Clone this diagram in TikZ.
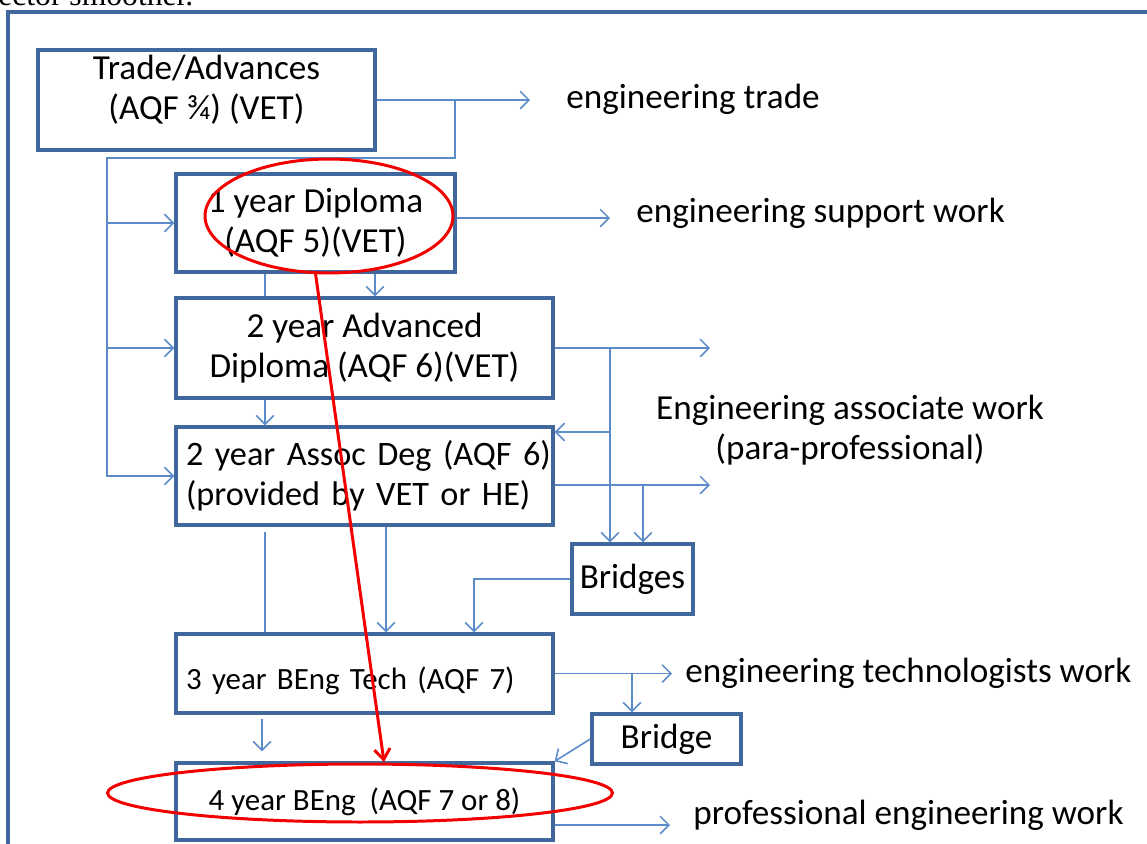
\documentclass[tikz,border=0pt]{standalone}
\usepackage{fontspec}
\setmainfont{Carlito}
\newfontfamily\pagefont{Liberation Serif}
\usetikzlibrary{arrows.meta,shapes.geometric}
\definecolor{boxblue}{HTML}{41689C}
\definecolor{linkblue}{HTML}{5B8BC9}
\definecolor{markred}{HTML}{F20000}

\begin{document}
\begin{tikzpicture}[x=0.02cm, y=-0.02cm, font=\fontsize{20}{23}\selectfont,
    box/.style = {draw=boxblue, line width=1.9pt, inner sep=0pt, align=center},
    leftbox/.style = {box, align=left, text width=7.14cm, inner xsep=0.2cm},
    small/.style = {font=\fontsize{17.6}{21}\selectfont},
    conn/.style = {linkblue, line width=0.9pt, -{Straight Barb[length=5pt,width=10pt]}},
    link/.style = {linkblue, line width=0.9pt},
    ring/.style = {ellipse, draw=markred, line width=1.7pt, inner sep=0pt},
    outcome/.style = {anchor=west, inner sep=0pt}]

\useasboundingbox (0,0) rectangle (1147,843);
\clip (0,0) rectangle (1147,843);

% page
\node[anchor=base west, inner sep=0pt, font=\pagefont\fontsize{18}{20}\selectfont] (cut) at (-2,5) {ector smoother.};
\draw[boxblue, line width=2pt] (1160,12) -- (8,12) -- (8,860);

% courses
\node[box, minimum width=6.74cm, minimum height=2cm, text depth=0.5cm] (trade) at (206.5,100) {Trade/Advances\\(AQF ¾) (VET)};
\node[box, minimum width=5.58cm, minimum height=1.96cm] (dip1) at (315.5,223) {1 year Diploma\\(AQF 5)(VET)};
\node[box, minimum width=7.54cm, minimum height=2cm] (adv) at (364.5,348) {2 year Advanced\\Diploma (AQF 6)(VET)};
\node[leftbox, font=\fontsize{19.5}{23}\selectfont, minimum width=7.54cm, minimum height=1.96cm] (assoc) at (364.5,476) {\mbox{2 year Assoc Deg (AQF 6)}\\\mbox{(provided by VET or HE)}};
\node[box, minimum width=2.42cm, minimum height=1.4cm] (bridges) at (632.5,579) {Bridges};
\node[leftbox, small, minimum width=7.54cm, minimum height=1.58cm, text height=0.75cm] (tech) at (364.5,673.5) {3 year BEng Tech (AQF 7)};
\node[box, minimum width=2.98cm, minimum height=1cm] (bridge) at (666.5,739) {Bridge};
\node[box, small, minimum width=7.54cm, minimum height=1.54cm] (beng) at (364.5,801.5) {4 year BEng~ (AQF 7 or 8)};

% outcomes
\node[outcome] (jobtrade) at (566,99) {engineering trade};
\node[outcome] (jobsupport) at (636,213) {engineering support work};
\node[align=center, inner sep=0pt] (jobassoc) at (850,430) {Engineering associate work\\(para-professional)};
\node[outcome] (jobtech) at (685,673) {engineering technologists work};
\node[outcome] (jobpro) at (693,815) {professional engineering work};

% junctions
\coordinate (tradeout) at (530,100);
\coordinate (tsplit) at (455,100);
\coordinate (lbus) at (107,158);
\coordinate (supout) at (610,218);
\coordinate (lcol) at (265,0);
\coordinate (dcol) at (375,0);
\coordinate (tcol) at (386,0);
\coordinate (advout) at (710,348);
\coordinate (bcol) at (610,0);
\coordinate (back) at (610,432);
\coordinate (assout) at (710,485);
\coordinate (bcol2) at (643,0);
\coordinate (bcol3) at (474,0);
\coordinate (techout) at (672,673.5);
\coordinate (bcol4) at (632,0);
\coordinate (scol) at (262,0);
\coordinate (proout) at (670,825);
\coordinate (redtip) at (384,762);

\draw[conn] (trade.east) -- (tradeout);
\draw[conn] (tsplit) |- (lbus) |- (assoc.west);
\draw[conn] (lbus |- dip1.west) -- (dip1.west);
\draw[conn] (lbus |- adv.west) -- (adv.west);
\draw[conn] (supout -| dip1.east) -- (supout);
\draw[link] (dip1.south -| lcol) -- (adv.north -| lcol);
\draw[conn] (dip1.south -| dcol) -- (adv.north -| dcol);
\draw[conn] (adv.south -| lcol) -- (assoc.north -| lcol);
\draw[link, shorten <=0.1cm] (assoc.south -| lcol) -- (tech.north -| lcol);
\draw[conn] (assoc.south -| tcol) -- (tech.north -| tcol);
\draw[conn] (adv.east) -- (advout);
\draw[conn] (bcol |- adv.east) -- (bcol |- bridges.north);
\draw[conn] (back) -- (back -| assoc.east);
\draw[conn] (assout -| assoc.east) -- (assout);
\draw[conn] (bcol2 |- assout) -- (bcol2 |- bridges.north);
\draw[conn] (bridges.west) -| (tech.north -| bcol3);
\draw[conn] (tech.east) -- (techout);
\draw[conn] (bcol4 |- tech.east) -- (bcol4 |- bridge.north);
\draw[conn, shorten <=0.08cm, shorten >=0.2cm] (tech.south -| scol) -- (beng.north -| scol);
\draw[conn] (bridge.west) -- (beng.north east);
\draw[conn] (proout -| beng.east) -- (proout);

% red marks
\node[ring, minimum width=4.96cm, minimum height=2.28cm] (ring1) at (329,216) {};
\node[ring, minimum width=10.1cm, minimum height=1.16cm] (ring2) at (360,793) {};
\draw[markred, line width=1.7pt, -{Straight Barb[length=6pt,width=9pt]}] (ring1.257) -- (redtip);
\end{tikzpicture}
\end{document}
